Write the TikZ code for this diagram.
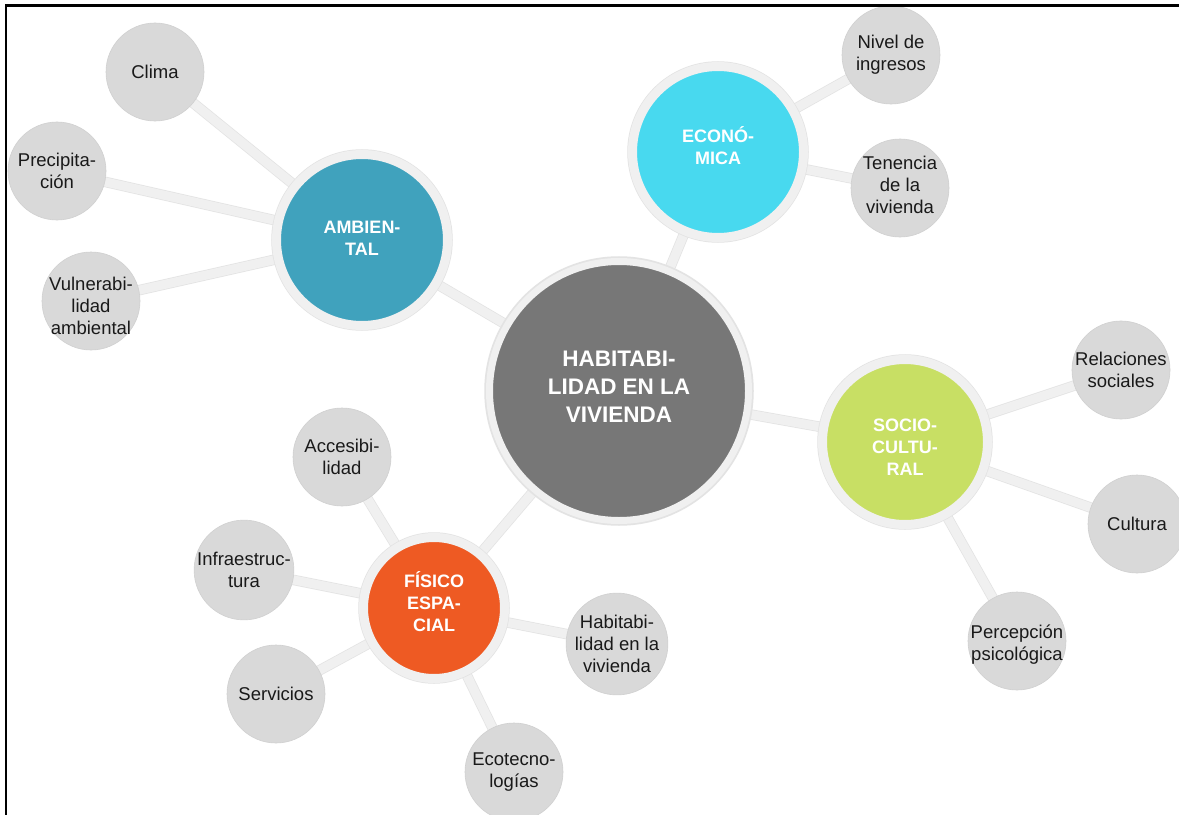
\documentclass[tikz,border=0pt]{standalone}
\usepackage{fontspec}
\setmainfont{Liberation Sans}
\usetikzlibrary{backgrounds}

\definecolor{ringc}{HTML}{F0F0F0}
\definecolor{ringedge}{HTML}{E3E3E3}
\definecolor{leafc}{HTML}{D9D9D9}
\definecolor{leafedge}{HTML}{D0D0D0}
\definecolor{corec}{HTML}{777777}
\definecolor{ambc}{HTML}{40A2BD}
\definecolor{ecoc}{HTML}{48D9EF}
\definecolor{socc}{HTML}{C8DF64}
\definecolor{fisc}{HTML}{EE5A23}

\begin{document}
\begin{tikzpicture}[x=1bp,y=-1bp,
  ringed/.style={circle, inner sep=0pt, draw=ringc, fill=#1,
    preaction={draw=ringedge, line width=10.5bp}},
  hub/.style={ringed=#1, line width=9bp, minimum size=171bp},
  core/.style={ringed=corec, line width=7bp, minimum size=259bp},
  hubtext/.style={inner sep=0pt, align=center, text=white,
    font=\bfseries\fontsize{18bp}{22bp}\selectfont},
  coretext/.style={hubtext, font=\bfseries\fontsize{22.5bp}{28bp}\selectfont},
  leaf/.style={circle, inner sep=0pt, align=center, minimum size=98bp,
    fill=leafc, draw=leafedge, line width=0.6bp, text=black!90,
    font=\fontsize{18.5bp}{22bp}\selectfont},
  conn/.style={draw=ringc, line width=9bp,
    preaction={draw=ringedge, line width=10.5bp}},
  frameline/.style={draw=black, line width=2.2bp}
]
\clip (0,0) rectangle (1179,815);

% central idea
\node[core] (core) at (619,391) {};
\node[coretext] (coreL) at ([yshift=4bp]core.center) {HABITABI-\\LIDAD EN LA\\VIVIENDA};

% four dimensions
\node[hub=ambc] (amb) at (362,240) {};
\node[hub=ecoc] (eco) at (718,152) {};
\node[hub=socc, minimum size=165bp] (soc) at (905,442) {};
\node[hub=fisc, minimum size=141bp] (fis) at (434,608) {};
\node[hubtext] (ambL) at ([yshift=2bp]amb.center) {AMBIEN-\\TAL};
\node[hubtext] (ecoL) at ([yshift=6bp]eco.center) {ECONÓ-\\MICA};
\node[hubtext] (socL) at ([yshift=-5bp]soc.center) {SOCIO-\\CULTU-\\RAL};
\node[hubtext] (fisL) at ([yshift=6bp]fis.center) {FÍSICO\\ESPA-\\CIAL};

% environmental factors
\node[leaf] (clima) at (155,72) {Clima};
\node[leaf] (prec) at (57,171) {Precipita-\\ción};
\node[leaf] (vuln) at (91,301) {};
\node[leaf, draw=none, fill=none] (vulnL) at ([yshift=-5bp]vuln.center) {Vulnerabi-\\lidad\\ambiental};

% economic factors
\node[leaf] (ingr) at (891,55) {Nivel de\\ingresos};
\node[leaf] (ten) at (900,188) {};
\node[leaf, draw=none, fill=none] (tenL) at ([yshift=3bp]ten.center) {Tenencia\\de la\\vivienda};

% socio-cultural factors
\node[leaf] (rel) at (1121,370) {Relaciones\\sociales};
\node[leaf] (cult) at (1137,524) {Cultura};
\node[leaf] (perc) at (1017,641) {};
\node[leaf, draw=none, fill=none] (percL) at ([yshift=-4bp]perc.center) {Percepción\\psicológica};

% physical-spatial factors
\node[leaf] (acc) at (342,457) {Accesibi-\\lidad};
\node[leaf] (inf) at (244,570) {Infraestruc-\\tura};
\node[leaf] (serv) at (276,694) {Servicios};
\node[leaf] (habv) at (617,644) {Habitabi-\\lidad en la\\vivienda};
\node[leaf] (ecot) at (514,772) {Ecotecno-\\logías};

% white sheet and connectors behind the circles
\begin{scope}[on background layer]
  \fill[white] (0,0) rectangle (1179,815);
  \foreach \a/\b in {core/amb, core/eco, core/soc, core/fis,
      amb/clima, amb/prec, amb/vuln,
      eco/ingr, eco/ten,
      soc/rel, soc/cult, soc/perc,
      fis/acc, fis/inf, fis/serv, fis/habv, fis/ecot}
    \draw[conn] (\a.center) -- (\b.center);
\end{scope}

% frame along top and left
\coordinate (fc) at (6,5.5);
\coordinate (fr) at (1179,5.5);
\coordinate (fb) at (6,815);
\draw[frameline] (fr) -- (fc) -- (fb);
\end{tikzpicture}
\end{document}
